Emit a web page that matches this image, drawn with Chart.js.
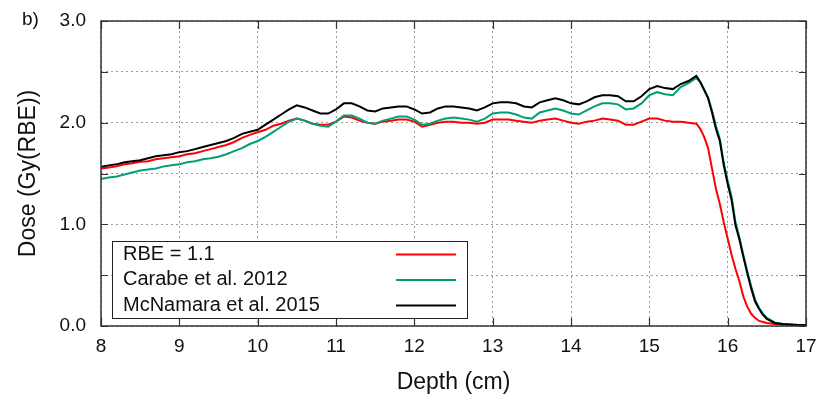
<!DOCTYPE html>
<html>
<head>
<meta charset="utf-8">
<script src="https://cdn.jsdelivr.net/npm/chart.js@4.4.1/dist/chart.umd.min.js"></script>
<style>
  html, body { margin: 0; padding: 0; background: #fff; }
  #wrap { width: 827px; height: 396px; }
</style>
</head>
<body>
<div id="wrap"><canvas id="c" width="827" height="396"></canvas></div>
<script>
// ---- data ----
const depth = [8.0, 8.1, 8.2, 8.3, 8.4, 8.5, 8.6, 8.7, 8.8, 8.9, 9.0, 9.1, 9.2, 9.3, 9.4, 9.5, 9.6, 9.7, 9.8, 9.9,
  10.0, 10.1, 10.2, 10.3, 10.4, 10.5, 10.6, 10.7, 10.8, 10.9, 11.0, 11.1, 11.2, 11.3, 11.4, 11.5, 11.6, 11.7, 11.8, 11.9,
  12.0, 12.1, 12.2, 12.3, 12.4, 12.5, 12.6, 12.7, 12.8, 12.9, 13.0, 13.1, 13.2, 13.3, 13.4, 13.5, 13.6, 13.7, 13.8, 13.9,
  14.0, 14.1, 14.2, 14.3, 14.4, 14.5, 14.6, 14.7, 14.8, 14.9, 15.0, 15.1, 15.2, 15.3, 15.4, 15.5, 15.6, 15.65, 15.7, 15.75,
  15.8, 15.85, 15.9, 15.95, 16.0, 16.05, 16.1, 16.15, 16.2, 16.25, 16.3, 16.35, 16.4, 16.45, 16.5, 16.6, 16.7, 16.8, 16.9, 17.0];

const rbe11 = [1.55, 1.56, 1.57, 1.59, 1.60, 1.615, 1.62, 1.64, 1.65, 1.66, 1.67, 1.69, 1.70, 1.72, 1.74, 1.76, 1.78, 1.81, 1.85, 1.88,
  1.905, 1.93, 1.97, 1.99, 2.02, 2.04, 2.02, 1.99, 1.98, 1.98, 2.01, 2.06, 2.05, 2.02, 2.00, 1.99, 2.01, 2.02, 2.03, 2.03,
  2.01, 1.96, 1.98, 2.00, 2.01, 2.01, 2.00, 2.00, 1.99, 2.00, 2.03, 2.03, 2.03, 2.02, 2.01, 2.00, 2.02, 2.03, 2.04, 2.02,
  2.00, 1.99, 2.01, 2.02, 2.04, 2.03, 2.02, 1.98, 1.98, 2.01, 2.04, 2.04, 2.02, 2.01, 2.01, 2.00, 1.99, 1.94, 1.86, 1.75,
  1.55, 1.35, 1.20, 1.02, 0.86, 0.70, 0.56, 0.44, 0.29, 0.19, 0.12, 0.08, 0.05, 0.04, 0.03, 0.02, 0.015, 0.01, 0.01, 0.01];

const carabe2012 = [1.445, 1.46, 1.47, 1.49, 1.51, 1.53, 1.54, 1.55, 1.57, 1.58, 1.59, 1.61, 1.62, 1.64, 1.65, 1.665, 1.69, 1.72, 1.75, 1.79,
  1.82, 1.86, 1.91, 1.96, 2.01, 2.04, 2.02, 1.99, 1.97, 1.96, 2.01, 2.07, 2.07, 2.04, 2.00, 1.99, 2.02, 2.04, 2.06, 2.06,
  2.03, 1.98, 1.99, 2.02, 2.04, 2.05, 2.04, 2.03, 2.01, 2.04, 2.09, 2.10, 2.10, 2.08, 2.05, 2.04, 2.10, 2.12, 2.14, 2.12,
  2.09, 2.08, 2.12, 2.16, 2.19, 2.19, 2.18, 2.13, 2.14, 2.19, 2.27, 2.30, 2.28, 2.27, 2.35, 2.39, 2.44, 2.40, 2.33, 2.25,
  2.12, 1.97, 1.84, 1.61, 1.43, 1.27, 1.02, 0.87, 0.70, 0.54, 0.39, 0.26, 0.18, 0.12, 0.08, 0.035, 0.02, 0.015, 0.01, 0.01];

const mcnamara2015 = [1.565, 1.58, 1.59, 1.61, 1.62, 1.63, 1.65, 1.67, 1.68, 1.69, 1.71, 1.72, 1.74, 1.76, 1.78, 1.80, 1.82, 1.85, 1.89, 1.91,
  1.93, 1.98, 2.03, 2.08, 2.13, 2.17, 2.15, 2.12, 2.09, 2.09, 2.13, 2.19, 2.19, 2.16, 2.12, 2.11, 2.14, 2.15, 2.16, 2.16,
  2.13, 2.09, 2.10, 2.14, 2.16, 2.16, 2.15, 2.14, 2.12, 2.15, 2.19, 2.20, 2.20, 2.19, 2.16, 2.15, 2.20, 2.22, 2.24, 2.22,
  2.19, 2.18, 2.21, 2.25, 2.27, 2.27, 2.26, 2.21, 2.21, 2.26, 2.33, 2.36, 2.34, 2.33, 2.38, 2.41, 2.46, 2.40, 2.32, 2.24,
  2.10, 1.94, 1.82, 1.58, 1.40, 1.24, 0.99, 0.85, 0.68, 0.52, 0.37, 0.24, 0.17, 0.11, 0.07, 0.03, 0.02, 0.015, 0.01, 0.01];

const seriesLabels = ['RBE = 1.1', 'Carabe et al. 2012', 'McNamara et al. 2015'];
const seriesColors = ['#ff0000', '#00a074', '#000000'];
const xTitle = 'Depth (cm)';
const yTitle = 'Dose (Gy(RBE))';
const panelLabel = 'b)';

const FONT = "'Liberation Sans', Arial, sans-serif";

function pts(arr) { return depth.map((d, i) => ({ x: d, y: arr[i] })); }

const overlay = {
  id: 'overlay',
  afterDatasetsDraw(chart) {
    const { ctx, chartArea: a, scales: { x, y } } = chart;
    ctx.save();
    // inward tick marks
    ctx.strokeStyle = '#333';
    ctx.lineWidth = 1.2;
    ctx.beginPath();
    x.ticks.forEach(t => {
      const px = Math.round(x.getPixelForValue(t.value)) + 0.5;
      ctx.moveTo(px, a.bottom); ctx.lineTo(px, a.bottom - 8);
      ctx.moveTo(px, a.top); ctx.lineTo(px, a.top + 8);
    });
    y.ticks.forEach(t => {
      const py = Math.round(y.getPixelForValue(t.value)) + 0.5;
      ctx.moveTo(a.left, py); ctx.lineTo(a.left + 7, py);
      ctx.moveTo(a.right, py); ctx.lineTo(a.right - 7, py);
    });
    ctx.stroke();
    // frame
    ctx.lineWidth = 1.5;
    ctx.strokeRect(a.left, a.top, a.right - a.left, a.bottom - a.top);

    // legend (text left, line sample right)
    const bx = 112, by = 241, bw = 355, bh = 77;
    ctx.fillStyle = '#fff';
    ctx.fillRect(bx, by, bw, bh);
    ctx.strokeStyle = '#222';
    ctx.lineWidth = 1;
    ctx.strokeRect(bx + 0.5, by + 0.5, bw, bh);
    ctx.font = '20px ' + FONT;
    ctx.textBaseline = 'middle';
    ctx.textAlign = 'left';
    chart.data.datasets.forEach((ds, i) => {
      const ry = by + 13 + i * 25.5;
      ctx.fillStyle = '#111';
      ctx.fillText(ds.label, 123, ry);
      ctx.strokeStyle = ds.borderColor;
      ctx.lineWidth = 2;
      ctx.beginPath();
      ctx.moveTo(396, ry + 0.5); ctx.lineTo(456, ry + 0.5);
      ctx.stroke();
    });

    // panel label
    ctx.fillStyle = '#111';
    ctx.font = '19px ' + FONT;
    ctx.textAlign = 'left';
    ctx.textBaseline = 'middle';
    ctx.fillText(panelLabel, 22, 20);
    ctx.restore();
  }
};

new Chart(document.getElementById('c'), {
  type: 'line',
  data: {
    datasets: [
      { label: seriesLabels[0], data: pts(rbe11), borderColor: seriesColors[0], order: 3 },
      { label: seriesLabels[1], data: pts(carabe2012), borderColor: seriesColors[1], order: 2 },
      { label: seriesLabels[2], data: pts(mcnamara2015), borderColor: seriesColors[2], order: 1 }
    ]
  },
  options: {
    responsive: false,
    animation: false,
    devicePixelRatio: 1,
    layout: { padding: { top: 21, right: 21, left: 0, bottom: 0 } },
    elements: {
      point: { radius: 0 },
      line: { borderWidth: 2, tension: 0, fill: false }
    },
    plugins: { legend: { display: false }, tooltip: { enabled: false } },
    scales: {
      x: {
        type: 'linear',
        min: 8, max: 17,
        ticks: { stepSize: 1, padding: 9, color: '#111', font: { family: FONT, size: 19 } },
        grid: { color: '#9a9a9a', lineWidth: 1, drawTicks: false },
        border: { display: false, dash: [2, 3] },
        title: { display: true, text: xTitle, color: '#111', font: { family: FONT, size: 23 }, padding: { top: 0, bottom: 0 } },
        afterFit(s) { s.height = 70; s.paddingLeft = 0; s.paddingRight = 0; }
      },
      y: {
        type: 'linear',
        min: 0, max: 3,
        ticks: {
          stepSize: 0.5, padding: 15, color: '#111', font: { family: FONT, size: 19 },
          callback: v => (Math.abs(v - Math.round(v)) < 1e-9 ? v.toFixed(1) : '')
        },
        grid: { color: '#9a9a9a', lineWidth: 1, drawTicks: false },
        border: { display: false, dash: [2, 3] },
        title: { display: true, text: yTitle, color: '#111', font: { family: FONT, size: 23 }, padding: { top: 15, bottom: 0 } },
        afterFit(s) { s.width = 101; s.paddingTop = 0; s.paddingBottom = 0; }
      }
    }
  },
  plugins: [overlay]
});
</script>
</body>
</html>
